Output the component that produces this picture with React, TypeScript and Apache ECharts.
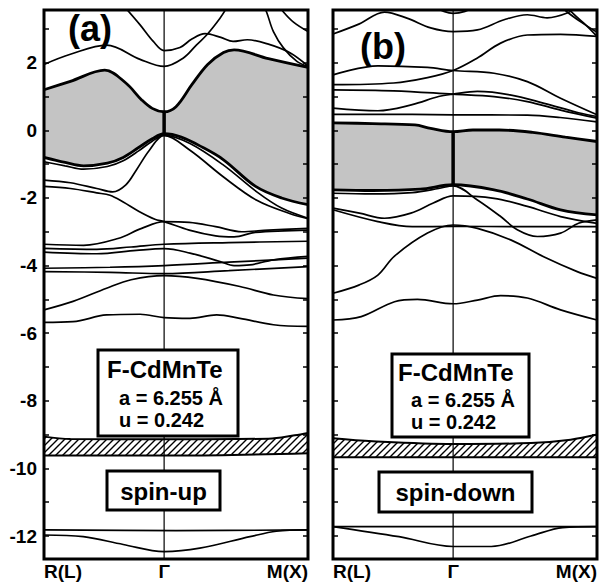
import React, { useEffect, useRef } from "react";
import * as echarts from "echarts";

const GAMMA = 0.455;
const E_MIN = -12.68;
const E_MAX = 3.56;
const kTicks = [0, GAMMA, 1];
const kLabels = ["R(L)", "Γ", "M(X)"];
const eLabelValues = [-12, -10, -8, -6, -4, -2, 0, 2];
const eTickValues = [-12, -11, -10, -9, -8, -7, -6, -5, -4, -3, -2, -1, 0, 1, 2, 3];

// ---------- panel (a) spin-up ----------
const upGapTop = [[0, 1.2], [0.1, 1.45], [0.23, 1.78], [0.31, 1.4], [0.37, 0.9], [0.41, 0.65], [0.455, 0.55], [0.5, 0.7], [0.56, 1.35], [0.62, 1.95], [0.68, 2.3], [0.72, 2.38], [0.85, 2.12], [1, 1.86]];
const upGapBottom = [[0, -0.8], [0.08, -0.95], [0.15, -1.05], [0.24, -0.97], [0.3, -0.8], [0.36, -0.5], [0.41, -0.25], [0.455, -0.1], [0.52, -0.2], [0.6, -0.5], [0.68, -0.87], [0.8, -1.65], [0.9, -2.0], [1, -2.2]];
const upHatchTop = [[0, -9.06], [0.1, -9.13], [0.455, -9.14], [0.85, -9.12], [0.95, -9.02], [1, -8.95]];
const upHatchBottom = [[0, -9.62], [0.5, -9.62], [1, -9.55]];
const upGammaBar = [[GAMMA, -0.1], [GAMMA, 0.55]];
const upBands = [
  [[0, -0.93], [0.08, -1.05], [0.15, -1.15], [0.24, -1.07], [0.3, -0.9], [0.36, -0.6], [0.41, -0.32], [0.455, -0.15], [0.553, -0.39], [0.68, -1.03], [0.806, -1.82], [0.9, -2.3], [1, -2.6]],
  [[0, -1.47], [0.1, -1.55], [0.2, -1.72], [0.26, -1.82], [0.31, -1.61], [0.35, -1.17], [0.4, -0.58], [0.455, -0.15], [0.553, -0.59], [0.68, -1.38], [0.806, -2.07], [0.93, -2.46], [1, -2.61]],
  [[0, -1.66], [0.1, -1.72], [0.2, -1.85], [0.25, -1.92], [0.3, -2.12], [0.36, -2.4], [0.42, -2.63], [0.455, -2.7], [0.55, -2.95], [0.65, -3.12], [0.72, -3.15], [0.8, -3.02], [1, -2.95]],
  [[0, -3.37], [0.15, -3.4], [0.28, -3.2], [0.37, -2.9], [0.455, -2.7], [0.55, -2.72], [0.65, -2.85], [0.75, -3.0], [0.85, -2.95], [1, -2.9]],
  [[0, -3.49], [0.2, -3.52], [0.33, -3.45], [0.455, -3.37], [0.7, -3.32], [1, -3.28]],
  [[0, -3.6], [0.2, -3.65], [0.35, -3.55], [0.455, -3.5], [0.553, -3.63], [0.667, -3.88], [0.72, -4.0], [0.78, -3.98], [0.87, -3.83], [1, -3.73]],
  [[0, -4.08], [0.25, -4.05], [0.455, -4.0], [0.7, -3.9], [1, -3.78]],
  [[0, -4.18], [0.25, -4.2], [0.455, -4.24], [0.7, -4.15], [1, -4.03]],
  [[0, -5.31], [0.11, -5.06], [0.237, -4.67], [0.33, -4.42], [0.455, -4.3], [0.58, -4.38], [0.742, -4.62], [0.869, -4.87], [1, -4.98]],
  [[0, -5.68], [0.11, -5.66], [0.237, -5.46], [0.364, -5.44], [0.455, -5.54], [0.553, -5.56], [0.654, -5.46], [0.742, -5.56], [0.869, -5.75], [1, -5.8]],
  [[0, 1.95], [0.1, 2.25], [0.237, 2.52], [0.364, 2.1], [0.455, 1.89], [0.528, 2.14], [0.578, 2.53], [0.616, 2.82], [0.666, 3.31], [0.69, 3.6], [0.71, 3.9]],
  [[0.3, 3.7], [0.364, 3.12], [0.414, 2.63], [0.455, 2.36], [0.515, 2.45], [0.56, 2.7], [0.61, 2.86], [0.67, 2.75], [0.716, 2.63], [0.77, 2.68], [0.85, 2.55], [0.93, 2.3], [1, 1.9]],
  [[0.83, 3.7], [0.843, 3.5], [0.869, 2.92], [0.907, 2.44], [0.958, 2.04], [1, 1.89]],
  [[0.89, 3.7], [0.907, 3.5], [0.945, 3.2], [1, 2.92]],
  [[0, -11.82], [0.5, -11.84], [1, -11.82]],
  [[0, -11.97], [0.149, -12.02], [0.3, -12.25], [0.455, -12.46], [0.59, -12.36], [0.78, -12.02], [0.88, -11.86], [1, -11.82]],
];

// ---------- panel (b) spin-down ----------
const downGapTop = [[0, 0.22], [0.15, 0.2], [0.31, 0.16], [0.37, 0.06], [0.455, -0.04], [0.53, 0.01], [0.63, 0.01], [0.756, -0.06], [0.88, -0.2], [1, -0.33]];
const downGapBottom = [[0, -1.76], [0.15, -1.78], [0.33, -1.74], [0.455, -1.61], [0.61, -1.76], [0.736, -2.03], [0.862, -2.35], [1, -2.5]];
const downHatchTop = [[0, -9.11], [0.15, -9.2], [0.455, -9.28], [0.75, -9.25], [0.9, -9.15], [1, -9.0]];
const downHatchBottom = [[0, -9.67], [1, -9.67]];
const downGammaBar = [[GAMMA, -1.61], [GAMMA, -0.04]];
const downBands = [
  [[0, 0.47], [0.3, 0.47], [0.455, 0.46], [0.736, 0.45], [0.86, 0.38], [1, 0.25]],
  [[0, 1.64], [0.17, 1.91], [0.358, 1.86], [0.455, 1.77], [0.61, 1.69], [0.736, 1.44], [0.862, 0.95], [1, 0.46]],
  [[0, 1.35], [0.23, 1.4], [0.358, 1.56], [0.455, 1.77], [0.547, 2.14], [0.635, 2.58], [0.736, 2.82], [0.862, 2.84], [1, 2.78]],
  [[0, 1.2], [0.23, 1.17], [0.455, 1.07], [0.61, 1.0], [0.736, 0.85], [0.862, 0.6], [1, 0.36]],
  [[0, 0.66], [0.17, 0.58], [0.3, 0.76], [0.4, 1.0], [0.455, 1.07], [0.547, 1.15], [0.67, 1.05], [0.8, 0.8], [0.93, 0.52], [1, 0.41]],
  [[0, 2.85], [0.1, 3.15], [0.195, 3.5], [0.28, 3.32], [0.37, 3.03], [0.455, 2.92], [0.547, 2.97], [0.648, 3.27], [0.736, 3.42], [0.811, 3.33], [0.887, 3.47], [0.93, 3.7]],
  [[0.86, 3.7], [0.887, 3.5], [0.94, 3.2], [1, 2.9]],
  [[0.87, 3.8], [0.91, 3.45], [0.96, 3.1], [1, 2.78]],
  [[0.37, 3.7], [0.42, 3.52], [0.455, 3.46], [0.5, 3.52], [0.55, 3.7]],
  [[0, -1.86], [0.15, -1.88], [0.3, -1.84], [0.4, -1.72], [0.455, -1.64], [0.547, -2.06], [0.635, -2.55], [0.698, -2.94], [0.774, -3.14], [0.862, -3.04], [0.93, -2.75], [1, -2.65]],
  [[0, -2.3], [0.1, -2.45], [0.195, -2.6], [0.295, -2.45], [0.38, -2.15], [0.455, -1.94], [0.61, -2.01], [0.736, -2.25], [0.862, -2.55], [1, -2.75]],
  [[0, -2.35], [0.17, -2.7], [0.3, -2.85], [0.455, -2.84], [0.7, -2.85], [1, -2.85]],
  [[0, -4.82], [0.1, -4.57], [0.17, -4.28], [0.233, -3.72], [0.358, -3.04], [0.455, -2.8], [0.547, -2.9], [0.673, -3.24], [0.798, -3.74], [0.925, -4.18], [1, -4.38]],
  [[0, -5.61], [0.107, -5.51], [0.233, -5.07], [0.32, -5.0], [0.455, -5.13], [0.547, -5.02], [0.635, -4.89], [0.736, -4.96], [0.862, -5.31], [1, -5.61]],
  [[0, -11.72], [1, -11.72]],
  [[0, -11.72], [0.25, -12.02], [0.455, -12.31], [0.6, -12.31], [0.75, -12.0], [0.87, -11.75], [1, -11.72]],
];

const FONT = "'Liberation Sans', Arial, Helvetica, sans-serif";
const GRAY = "#c4c4c4";
const SMOOTH = 0.35;

function makeHatch() {
  const c = document.createElement("canvas");
  c.width = 7;
  c.height = 7;
  const ctx = c.getContext("2d")!;
  ctx.fillStyle = "#fff";
  ctx.fillRect(0, 0, 7, 7);
  ctx.strokeStyle = "#000";
  ctx.lineWidth = 1.4;
  ctx.beginPath();
  ctx.moveTo(-1, 8); ctx.lineTo(8, -1);
  ctx.moveTo(-1, 1); ctx.lineTo(1, -1);
  ctx.moveTo(6, 8); ctx.lineTo(8, 6);
  ctx.stroke();
  return c;
}

function line(p: number, data: number[][], width: number, z: number) {
  return {
    type: "line", xAxisIndex: p, yAxisIndex: p * 2, data, smooth: SMOOTH,
    symbol: "none", silent: true, clip: true, z,
    lineStyle: { color: "#000", width },
  };
}
function fill(p: number, data: number[][], color: any, z: number) {
  return {
    type: "line", xAxisIndex: p, yAxisIndex: p * 2, data, smooth: SMOOTH,
    symbol: "none", silent: true, clip: true, z,
    lineStyle: { width: 0, opacity: 0 },
    areaStyle: { color, origin: "start", opacity: 1 },
  };
}

function panel(p: number, gapTop: number[][], gapBottom: number[][], hTop: number[][], hBot: number[][], bands: number[][][], gBar: number[][], hatch: any) {
  const s: any[] = [
    fill(p, gapTop, GRAY, 1),
    fill(p, gapBottom, "#fff", 2),
    fill(p, hTop, hatch, 3),
    fill(p, hBot, "#fff", 4),
    line(p, [[GAMMA, E_MIN], [GAMMA, E_MAX]], 1.2, 5),
    line(p, gBar, 3.5, 5),
  ];
  bands.forEach((b) => s.push(line(p, b, 1.7, 6)));
  s.push(line(p, gapTop, 2.8, 7), line(p, gapBottom, 2.8, 7), line(p, hTop, 2, 7), line(p, hBot, 2, 7));
  return s;
}

function xAxis(g: number) {
  return {
    gridIndex: g, type: "value", min: 0, max: 1,
    axisLine: { show: false }, axisTick: { show: false }, splitLine: { show: false },
    axisLabel: {
      customValues: kTicks,
      formatter: (v: number) => {
        let best = 0;
        kTicks.forEach((t, i) => { if (Math.abs(t - v) < Math.abs(kTicks[best] - v)) best = i; });
        return kLabels[best];
      },
      color: "#000", fontSize: 19, fontWeight: "bold", fontFamily: FONT, margin: 3,
      alignMinLabel: "left", alignMaxLabel: "right",
    },
    z: 10,
  };
}
function yAxis(g: number, pos: string, labels: boolean) {
  return {
    gridIndex: g, type: "value", min: E_MIN, max: E_MAX, position: pos,
    axisLine: { show: false }, splitLine: { show: false },
    axisTick: { show: true, inside: true, length: 5, customValues: eTickValues, lineStyle: { color: "#000", width: 1.5 } },
    axisLabel: labels
      ? { show: true, customValues: eLabelValues, color: "#000", fontSize: 19, fontWeight: "bold", fontFamily: FONT, margin: 7 }
      : { show: false },
    z: 10,
  };
}

function txt(text: string, x: number, y: number, size: number, align = "left") {
  return {
    type: "text", x, y, z: 101,
    style: {
      text, fill: "#000", fontSize: size, fontWeight: "bold", fontFamily: FONT,
      align, verticalAlign: "middle", textAlign: align, textVerticalAlign: "middle",
    },
  };
}
function box(x: number, y: number, w: number, h: number) {
  return { type: "rect", z: 100, shape: { x, y, width: w, height: h }, style: { fill: "#fff", stroke: "#000", lineWidth: 3 } };
}

export default function App() {
  const ref = useRef<HTMLDivElement>(null);
  useEffect(() => {
    const chart = echarts.init(ref.current!, null, { renderer: "svg" });
    const hatch = { image: makeHatch(), repeat: "repeat", imageWidth: 7, imageHeight: 7 };
    const option: any = {
      animation: false,
      backgroundColor: "#fff",
      grid: [
        { left: 44, top: 10, width: 264, height: 549, show: true, borderColor: "#000", borderWidth: 3, backgroundColor: "transparent", z: 10 },
        { left: 333, top: 10, width: 265, height: 549, show: true, borderColor: "#000", borderWidth: 3, backgroundColor: "transparent", z: 10 },
      ],
      xAxis: [xAxis(0), xAxis(1)],
      yAxis: [yAxis(0, "left", true), yAxis(0, "right", false), yAxis(1, "left", false), yAxis(1, "right", false)],
      series: [
        ...panel(0, upGapTop, upGapBottom, upHatchTop, upHatchBottom, upBands, upGammaBar, hatch),
        ...panel(1, downGapTop, downGapBottom, downHatchTop, downHatchBottom, downBands, downGammaBar, hatch),
      ],
      graphic: {
        elements: [
          txt("(a)", 68, 28, 36),
          txt("(b)", 360, 46, 36),
          box(98, 350, 140, 86),
          txt("F-CdMnTe", 107, 369, 24),
          txt("a = 6.255 Å", 119, 398, 20),
          txt("u = 0.242", 119, 420, 20),
          box(107, 471, 113, 39),
          txt("spin-up", 163.5, 491, 24, "center"),
          box(392, 354, 137, 83),
          txt("F-CdMnTe", 398, 372, 24),
          txt("a = 6.255 Å", 411, 400, 20),
          txt("u = 0.242", 411, 422, 20),
          box(379, 472, 153, 40),
          txt("spin-down", 455.5, 492, 24, "center"),
        ],
      },
    };
    chart.setOption(option);
    return () => chart.dispose();
  }, []);
  return <div ref={ref} style={{ position: "fixed", left: 0, top: 0, width: 600, height: 584 }} />;
}
